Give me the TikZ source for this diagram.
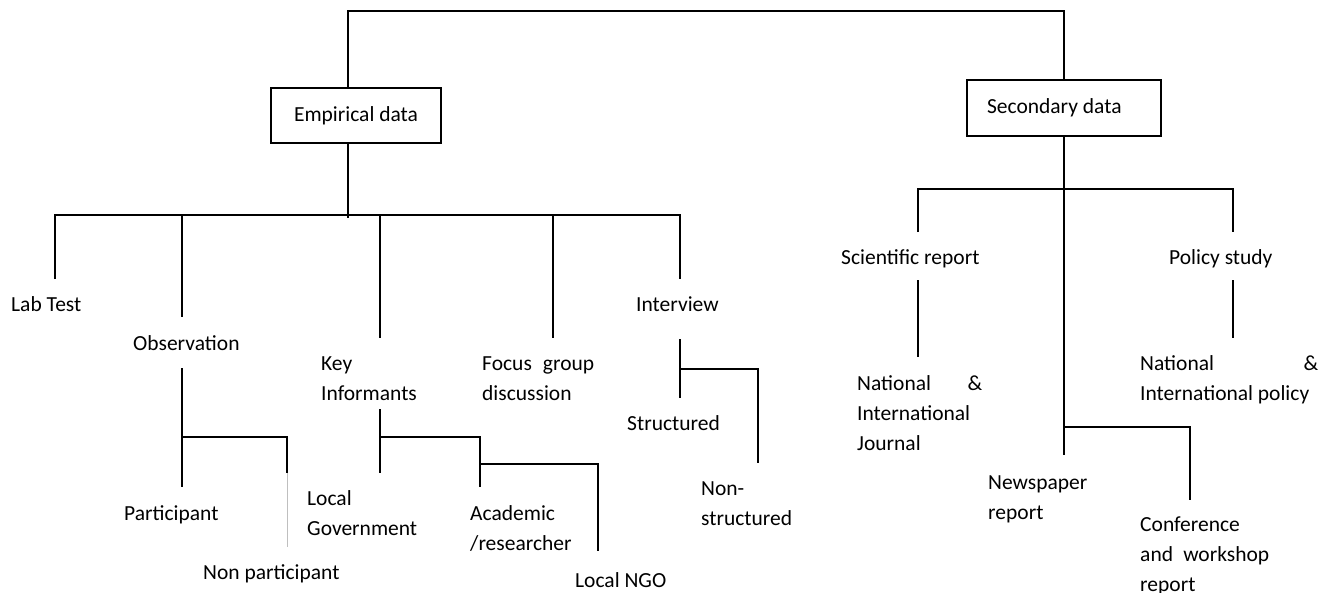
\documentclass[tikz,border=0pt]{standalone}
\usepackage{fontspec}
\setmainfont{Carlito}
\usetikzlibrary{calc}
\begin{document}
\begin{tikzpicture}[x=1pt,y=-1pt,
  conn/.style={line width=1.6pt},
  faint/.style={line width=0.6pt, draw=black!25},
  box/.style={draw, line width=1.6pt, inner sep=0pt, font=\fontsize{21.5}{30}\selectfont},
  lbl/.style={inner sep=0pt, anchor=base west, align=left, font=\fontsize{21.5}{30}\selectfont}]
\useasboundingbox (0,0) rectangle (1330,592);

% boxes
\node[box, minimum width=170pt, minimum height=55pt] (emp) at (356,115.5) {Empirical data};
\node[box, minimum width=194pt, minimum height=56pt] (sec) at (1064,108) {\makebox[154pt][l]{Secondary data}};

% labels (base = baseline of last line)
\node[lbl] (lab) at (11,311) {Lab Test};
\node[lbl] (obs) at (133,350) {Observation};
\node[lbl] (key) at (321,400) {Key\\Informants};
\node[lbl] (foc) at (482,400) {\makebox[112pt][l]{Focus\hfill group}\\discussion};
\node[lbl] (int) at (636,311) {Interview};
\node[lbl] (par) at (124,520) {Participant};
\node[lbl] (npar) at (203,579) {Non participant};
\node[lbl] (lgov) at (307,535) {Local\\Government};
\node[lbl] (acad) at (470,550) {Academic\\/researcher};
\node[lbl] (ngo) at (575,587) {Local NGO};
\node[lbl] (str) at (627,430) {Structured};
\node[lbl] (nstr) at (701,525) {Non-\\structured};
\node[lbl] (sci) at (841,264) {Scientific report};
\node[lbl] (pol) at (1169,264) {Policy study};
\node[lbl] (jour) at (857,450) {\makebox[125pt][l]{National\hfill\&}\\International\\Journal};
\node[lbl] (npol) at (1140,400) {\makebox[178pt][l]{National\hfill\&}\\International policy};
\node[lbl] (news) at (988,519) {Newspaper\\report};
\node[lbl] (conf) at (1140,591) {Conference\\\makebox[129pt][l]{and\hfill workshop}\\report};

% coordinates
\coordinate (tl) at (348,11);
\coordinate (tr) at (1064,11);
\coordinate (eb) at (348,218);
\coordinate (b1) at (55,215);  \coordinate (e1) at (55,279);
\coordinate (b2) at (182,215); \coordinate (e2) at (182,317);
\coordinate (b3) at (380,215); \coordinate (e3) at (380,338);
\coordinate (b4) at (553,215); \coordinate (e4) at (553,338);
\coordinate (b5) at (680,215); \coordinate (e5) at (680,279);

% top connector
\draw[conn] (emp.north -| tl) -- (tl) -- (tr) -- (sec.north);

% empirical branch
\draw[conn] (emp.south -| eb) -- (eb);
\draw[conn] (e1) -- (b1) -- (b5) -- (e5);
\draw[conn] (b2) -- (e2);
\draw[conn] (b3) -- (e3);
\draw[conn] (b4) -- (e4);

% observation
\coordinate (o1) at (182,368); \coordinate (o2) at (182,487);
\coordinate (o3) at (182,437); \coordinate (o4) at (287,437); \coordinate (o5) at (287,473);
\coordinate (o6) at (287,547);
\draw[conn] (o1) -- (o2);
\draw[conn] (o3) -- (o4) -- (o5);
\draw[faint] (o5) -- (o6);

% key informants
\coordinate (k1) at (380,409); \coordinate (k2) at (380,473);
\coordinate (k3) at (380,437); \coordinate (k4) at (480,437); \coordinate (k5) at (480,487);
\coordinate (k6) at (480,464); \coordinate (k7) at (598,464); \coordinate (k8) at (598,551);
\draw[conn] (k1) -- (k2);
\draw[conn] (k3) -- (k4) -- (k5);
\draw[conn] (k6) -- (k7) -- (k8);

% interview
\coordinate (i1) at (680,339); \coordinate (i2) at (680,398);
\coordinate (i3) at (680,369); \coordinate (i4) at (758,369); \coordinate (i5) at (758,463);
\draw[conn] (i1) -- (i2);
\draw[conn] (i3) -- (i4) -- (i5);

% secondary branch
\coordinate (s0) at (1064,455);
\coordinate (sb1) at (918,189); \coordinate (se1) at (918,232);
\coordinate (sb2) at (1233,189); \coordinate (se2) at (1233,232);
\draw[conn] (sec.south) -- (s0);
\draw[conn] (se1) -- (sb1) -- (sb2) -- (se2);
\coordinate (sc1) at (918,280); \coordinate (sc2) at (918,357);
\draw[conn] (sc1) -- (sc2);
\coordinate (p1) at (1233,280); \coordinate (p2) at (1233,338);
\draw[conn] (p1) -- (p2);
\coordinate (n1) at (1064,427); \coordinate (n2) at (1190,427); \coordinate (n3) at (1190,500);
\draw[conn] (n1) -- (n2) -- (n3);
\end{tikzpicture}
\end{document}
